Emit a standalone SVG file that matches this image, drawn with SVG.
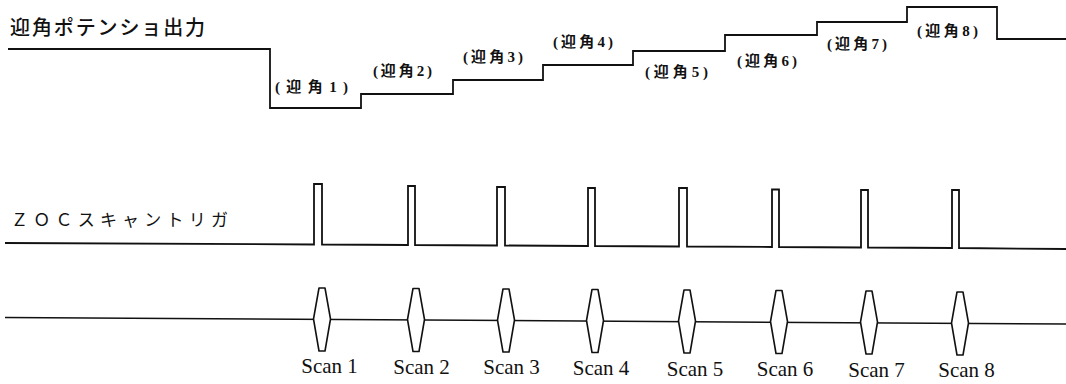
<svg xmlns="http://www.w3.org/2000/svg" width="1066" height="384" viewBox="0 0 1066 384">
<style>
.wave{fill:none;stroke:#111;stroke-width:1.8;stroke-linejoin:miter}
.thin{fill:none;stroke:#111;stroke-width:1.5}
.dia{fill:#fff;stroke:#111;stroke-width:1.6;stroke-linejoin:round}
.title{font-family:"Noto Sans CJK JP","Noto Sans",sans-serif;fill:#111}
.lbl{font-family:"Liberation Serif","Noto Sans CJK JP",serif;font-size:15px;fill:#111;font-weight:bold}
.scan{font-family:"Liberation Serif","DejaVu Serif",serif;font-size:21px;fill:#111;text-anchor:middle}
</style>
<rect width="1066" height="384" fill="#fff"/>
<g id="title-aoa">
<text class="title" x="10" y="35" font-size="20" textLength="195" lengthAdjust="spacing" font-weight="500">迎角ポテンショ出力</text>
</g>
<g id="title-zoc">
<text class="title" x="11" y="226" font-size="17" textLength="217" lengthAdjust="spacing">ＺＯＣスキャントリガ</text>
</g>
<g id="connectors">
<polyline id="aoa-wave" class="wave" points="8,49 270,49 270,108 361,108 361,94 453,94 453,80 543,80 543,65 633,65 633,51 725,51 725,35 817,35 817,22 907,22 907,7 997,7 997,39 1066,39"/>
<polyline id="zoc-wave" class="wave" points="5,243 314,244.5 314,184 322,184 322,244.5 408,245 408,186 415,186 415,245 497,245.5 497,187 505,187 505,245.5 588,246 588,188 595,188 595,246 679,246.5 679,188 687,188 687,246.5 772,247 772,189.5 779,189.5 779,247 861,247.5 861,190 868,190 868,247.5 952,248 952,190 959,190 959,248 1066,249"/>
<line id="scan-line" class="thin" x1="5" y1="317.5" x2="1066" y2="324"/>
</g>
<g id="aoa-labels">
<text class="lbl" x="275" y="92" textLength="73" lengthAdjust="spacing">(迎角1)</text>
<text class="lbl" x="373" y="76" textLength="59" lengthAdjust="spacing">(迎角2)</text>
<text class="lbl" x="463" y="62" textLength="60" lengthAdjust="spacing">(迎角3)</text>
<text class="lbl" x="553" y="47" textLength="60" lengthAdjust="spacing">(迎角4)</text>
<text class="lbl" x="645" y="77" textLength="63" lengthAdjust="spacing">(迎角5)</text>
<text class="lbl" x="737" y="66" textLength="60" lengthAdjust="spacing">(迎角6)</text>
<text class="lbl" x="827" y="49" textLength="60" lengthAdjust="spacing">(迎角7)</text>
<text class="lbl" x="917" y="36" textLength="61" lengthAdjust="spacing">(迎角8)</text>
</g>
<g id="scan1"><polygon class="dia" points="319,288 325,288 330.5,319 325,351 319,351 313.5,319"/><text class="scan" x="329.5" y="373">Scan 1</text></g>
<g id="scan2"><polygon class="dia" points="413,288.5 419,288.5 424.5,319.5 419,351.5 413,351.5 407.5,319.5"/><text class="scan" x="421.5" y="373.5">Scan 2</text></g>
<g id="scan3"><polygon class="dia" points="503,289 509,289 514.5,320 509,352 503,352 497.5,320"/><text class="scan" x="511.5" y="374">Scan 3</text></g>
<g id="scan4"><polygon class="dia" points="592,289.5 598,289.5 603.5,320.5 598,352.5 592,352.5 586.5,320.5"/><text class="scan" x="601" y="374.5">Scan 4</text></g>
<g id="scan5"><polygon class="dia" points="684,290 690,290 695.5,321 690,353 684,353 678.5,321"/><text class="scan" x="695" y="375.5">Scan 5</text></g>
<g id="scan6"><polygon class="dia" points="776,290.5 782,290.5 787.5,321.5 782,353.5 776,353.5 770.5,321.5"/><text class="scan" x="785" y="376">Scan 6</text></g>
<g id="scan7"><polygon class="dia" points="866,291 872,291 877.5,322 872,354 866,354 860.5,322"/><text class="scan" x="876.5" y="376.5">Scan 7</text></g>
<g id="scan8"><polygon class="dia" points="957,292 963,292 968.5,323 963,355 957,355 951.5,323"/><text class="scan" x="966.5" y="377">Scan 8</text></g>
</svg>
